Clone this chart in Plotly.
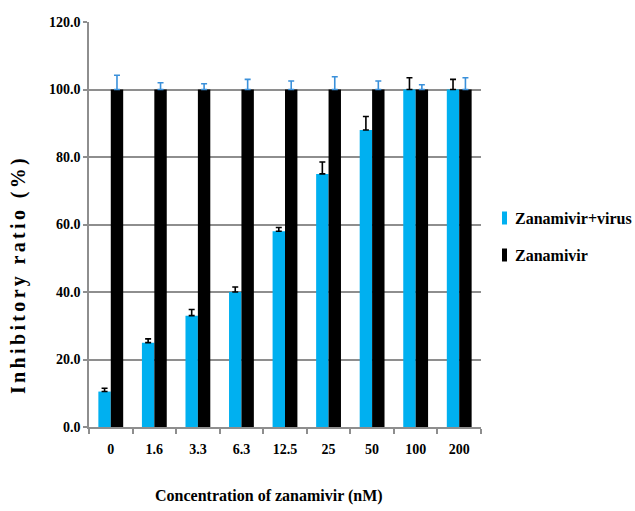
import plotly.graph_objects as go

# Zanamivir concentrations (nM)
concentrations = ["0", "1.6", "3.3", "6.3", "12.5", "25", "50", "100", "200"]

# Inhibitory ratio (%) and upper error (SD)
virus_ratio = [10.5, 25.0, 33.0, 40.0, 58.0, 75.0, 88.0, 100.0, 100.0]
virus_err = [1.0, 1.1, 1.8, 1.5, 1.1, 3.5, 4.0, 3.5, 3.0]
drug_ratio = [100.0, 100.0, 100.0, 100.0, 100.0, 100.0, 100.0, 100.0, 100.0]
drug_err = [4.2, 2.0, 1.7, 3.0, 2.5, 3.8, 2.5, 1.4, 3.5]

series_names = ["Zanamivir+virus", "Zanamivir"]
y_ticks = [0, 20, 40, 60, 80, 100, 120]

BLUE = "#00B0F0"
ERR_BLUE = "#3A90DA"
GRID = "#8E8E8E"
FONT = "'Liberation Serif', 'Times New Roman', Times, 'DejaVu Serif', serif"

W, H = 635, 511
L, R, T, B = 89, 154, 22, 84

fig = go.Figure()
fig.add_trace(go.Bar(
    x=concentrations, y=virus_ratio, name=series_names[0],
    marker=dict(color=BLUE, line=dict(width=0)),
    error_y=dict(type="data", array=virus_err, arrayminus=[0] * len(virus_err),
                 symmetric=False, color="#000000", thickness=1.6, width=3),
    showlegend=False,
))
fig.add_trace(go.Bar(
    x=concentrations, y=drug_ratio, name=series_names[1],
    marker=dict(color="#000000", line=dict(width=0)),
    error_y=dict(type="data", array=drug_err, arrayminus=[0] * len(drug_err),
                 symmetric=False, color=ERR_BLUE, thickness=1.6, width=3),
    showlegend=False,
))


def fx(p):
    return (p - L) / (W - L - R)


def fy(p):
    return (H - B - p) / (H - T - B)


# Hand-built legend with narrow swatches
legend_rows = [(series_names[0], BLUE, 218), (series_names[1], "#000000", 255)]
for label, color, yc in legend_rows:
    fig.add_shape(type="rect", xref="paper", yref="paper",
                  x0=fx(502), x1=fx(507), y0=fy(yc + 6.5), y1=fy(yc - 6.5),
                  fillcolor=color, line=dict(width=0))
    fig.add_annotation(xref="paper", yref="paper", x=fx(513), y=fy(yc),
                       text=label, showarrow=False, xanchor="left", yanchor="middle",
                       font=dict(family=FONT, size=16, color="#000000", weight="bold"))

# Axis titles
fig.add_annotation(xref="paper", yref="paper", x=fx(269), y=fy(496),
                   text="Concentration of zanamivir (nM)", showarrow=False,
                   xanchor="center", yanchor="middle",
                   font=dict(family=FONT, size=16, color="#000000", weight="bold"))
# letter-spaced vertical title (hair spaces between glyphs)
fig.add_annotation(xref="paper", yref="paper", x=fx(18), y=fy(276),
                   text="\u200a\u200a".join("Inhibitory ratio (%)"), showarrow=False, textangle=-90,
                   xanchor="center", yanchor="middle",
                   font=dict(family=FONT, size=20, color="#000000", weight="bold"))

fig.update_layout(
    width=W, height=H,
    margin=dict(l=L, r=R, t=T, b=B, pad=0),
    paper_bgcolor="white", plot_bgcolor="white",
    barmode="group", bargap=0.43, bargroupgap=0.0,
    font=dict(family=FONT, size=14, color="#000000"),
    xaxis=dict(
        type="category", showline=True, linecolor=GRID, linewidth=1.5,
        ticks="outside", tickson="boundaries", ticklen=5, tickcolor=GRID, tickwidth=1.5,
        showgrid=False, ticklabelstandoff=8,
        tickfont=dict(family=FONT, size=14, color="#000000", weight="bold"),
    ),
    yaxis=dict(
        range=[0, 120], tickvals=y_ticks, ticktext=[f"{v:.1f}" for v in y_ticks],
        showline=True, linecolor=GRID, linewidth=1.5,
        ticks="outside", ticklen=4, tickcolor=GRID, tickwidth=1.5,
        showgrid=True, gridcolor=GRID, gridwidth=1.5, zeroline=False,
        tickfont=dict(family=FONT, size=14, color="#000000", weight="bold"),
    ),
)

fig.write_html("out.html")
